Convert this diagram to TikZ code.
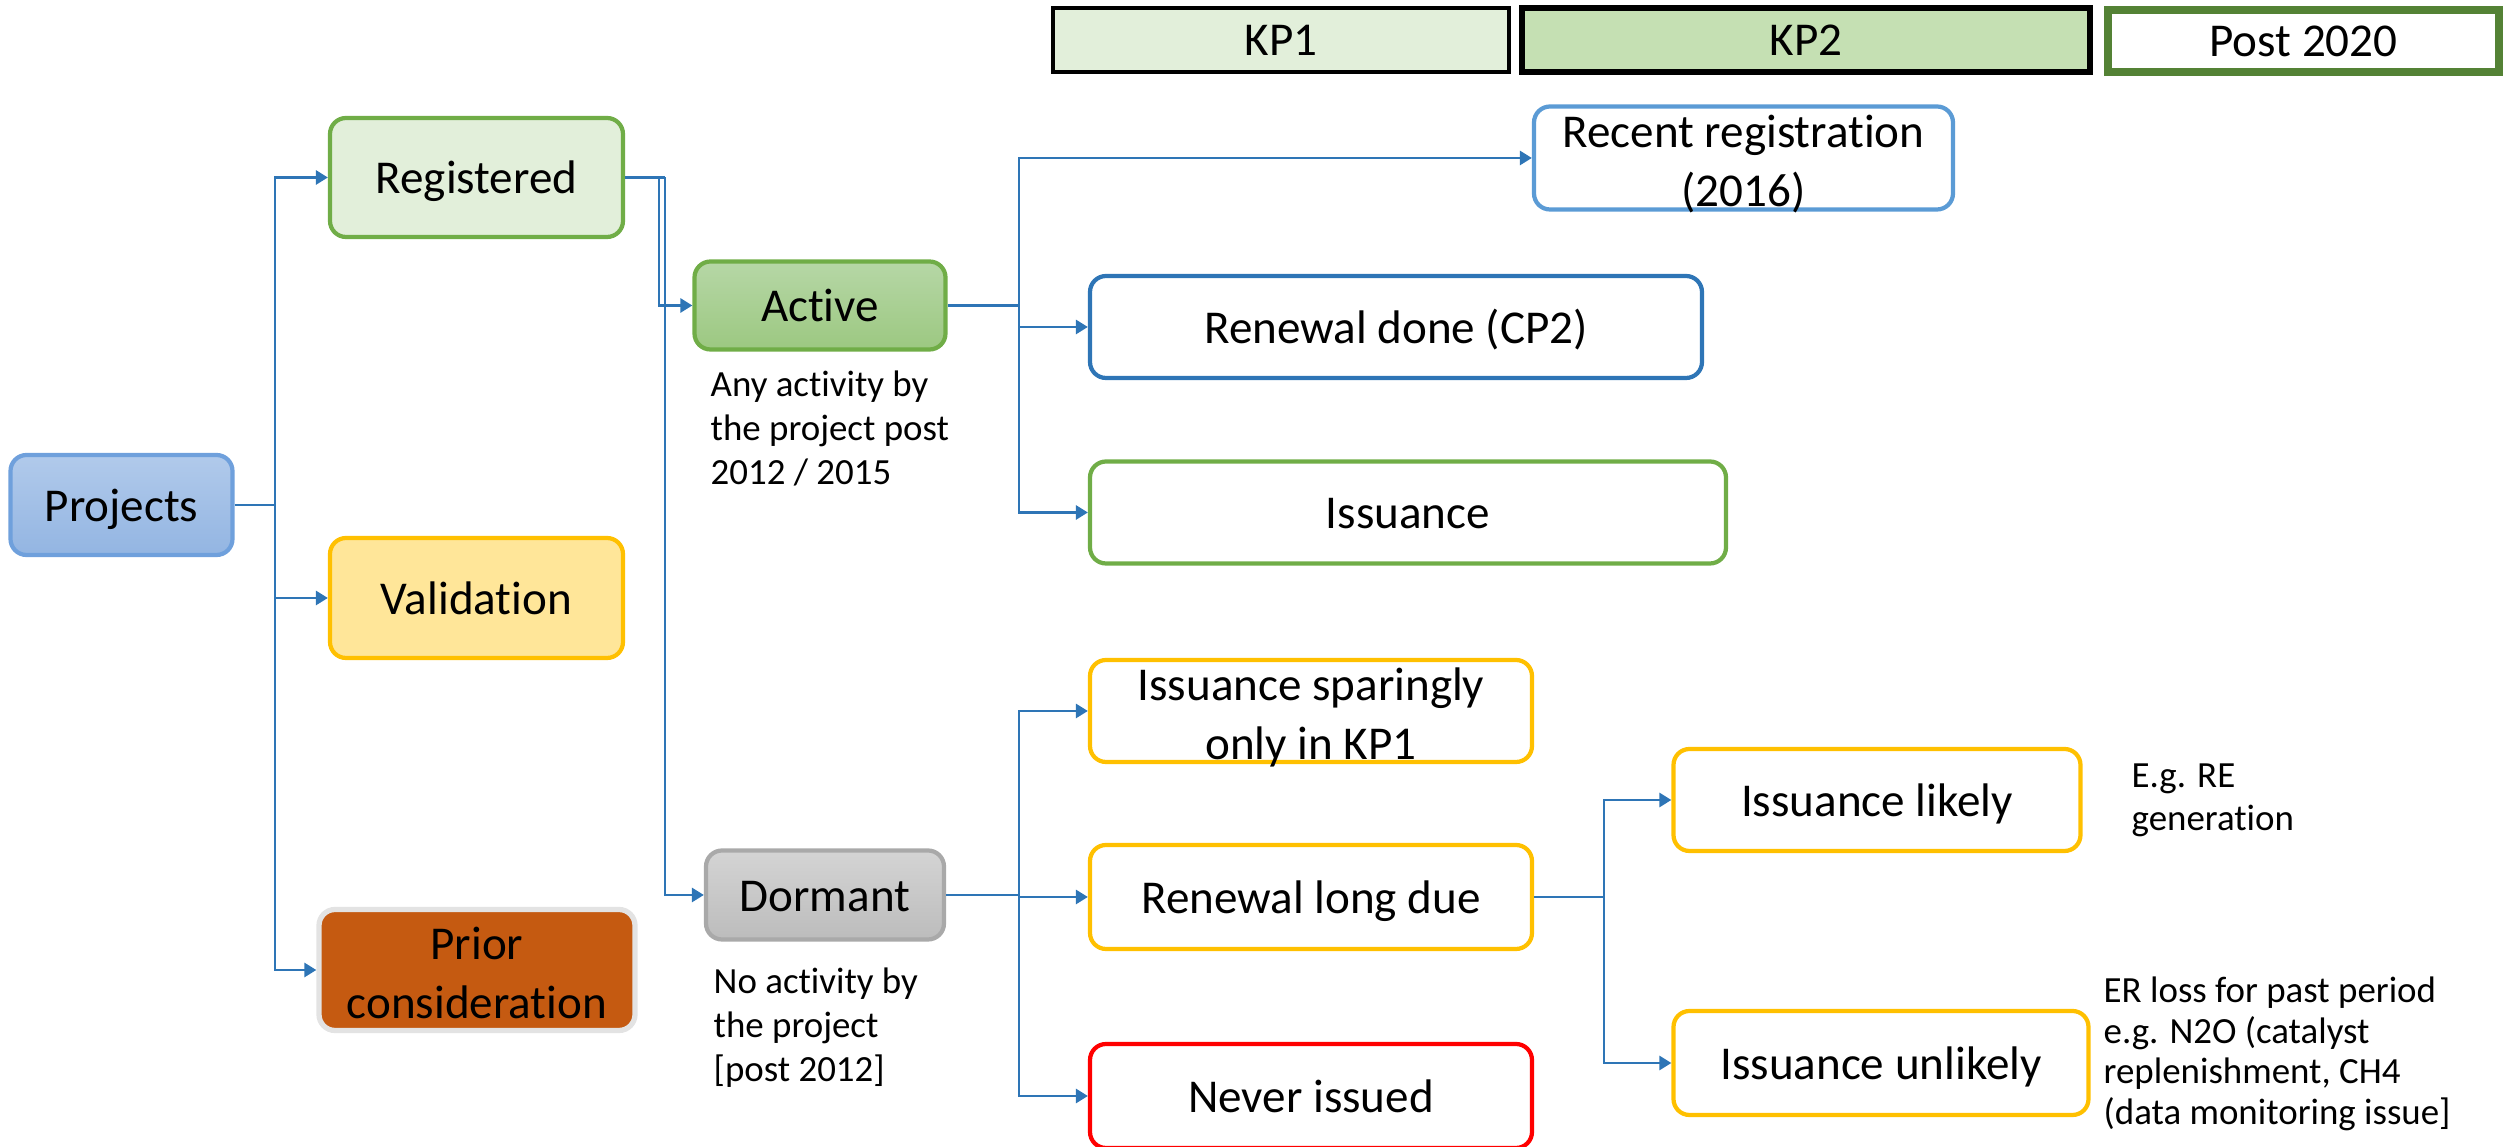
\documentclass[tikz,border=0pt]{standalone}
\usepackage{fontspec}
\setmainfont{Carlito}[Ligatures=NoCommon]
\usetikzlibrary{arrows.meta}
\definecolor{link}{HTML}{2E75B6}
\definecolor{kpone}{HTML}{E2EFDA}
\definecolor{kptwo}{HTML}{C5E0B3}
\definecolor{postgreen}{HTML}{548235}
\definecolor{projline}{HTML}{6FA0DC}
\definecolor{projtop}{HTML}{B1CAEB}
\definecolor{projbot}{HTML}{93B5E2}
\definecolor{leaf}{HTML}{70AD47}
\definecolor{paleleaf}{HTML}{E2EFDA}
\definecolor{amber}{HTML}{FFC000}
\definecolor{paleamber}{HTML}{FFE699}
\definecolor{rust}{HTML}{C55A11}
\definecolor{haze}{HTML}{E3E3E3}
\definecolor{activetop}{HTML}{B6D7A6}
\definecolor{activebot}{HTML}{9CC881}
\definecolor{dormline}{HTML}{A9A9A9}
\definecolor{dormtop}{HTML}{D4D4D4}
\definecolor{dormbot}{HTML}{BCBCBC}
\definecolor{skyline}{HTML}{5B9BD5}
\definecolor{alarm}{HTML}{FF0000}
\newcommand{\boxfont}{\fontsize{13.4}{16.8}\selectfont}
\newcommand{\notefont}{\fontsize{10.5}{12.5}\selectfont}
\newcommand{\tightnote}{\fontsize{10.5}{11.6}\selectfont}
\newcommand{\tnoi}{t\kern0pt i}
\begin{document}
\begin{tikzpicture}[
  box/.style={draw, rounded corners=0.16cm, line width=1.2pt, align=center, font=\boxfont, inner sep=0pt,
    execute at begin node={\rule{0pt}{0.95em}}, execute at end node={\rule[-0.25em]{0pt}{0pt}}},
  twoline/.style={inner ysep=-3.5pt, execute at begin node={\rule{0pt}{31pt}}},
  period/.style={draw, line width=1.3pt, font=\boxfont, inner sep=0pt},
  note/.style={anchor=north west, align=left, inner sep=0pt, font=\notefont},
  flow/.style={draw=link, line width=0.8pt, -{Triangle[length=0.12cm,width=0.14cm]}},
  trunk/.style={draw=link, line width=0.8pt}
]
\useasboundingbox (0,0) rectangle (25.07,-11.47);

\node[period, fill=kpone, minimum width=4.56cm, minimum height=0.64cm] (kp1) at (12.81,-0.40) {KP1};
\node[period, fill=kptwo, line width=1.6pt, minimum width=5.68cm, minimum height=0.64cm] (kp2) at (18.06,-0.40) {KP2};
\node[period, draw=postgreen, line width=2.4pt, fill=white, minimum width=3.91cm, minimum height=0.62cm] (post) at (23.035,-0.41) {Post 2020};

\node[box, draw=projline, top color=projtop, bottom color=projbot, minimum width=2.22cm, minimum height=1.0cm] (projects) at (1.215,-5.05) {Projects};
\node[box, draw=leaf, fill=paleleaf, minimum width=2.93cm, minimum height=1.19cm] (registered) at (4.765,-1.775) {Registered};
\node[box, draw=amber, fill=paleamber, minimum width=2.93cm, minimum height=1.2cm] (validation) at (4.765,-5.98) {Valida\tnoi on};
\node[box, twoline, draw=haze, line width=1.5pt, fill=rust, minimum width=3.16cm, minimum height=1.21cm] (prior) at (4.77,-9.70) {Prior\\considera\tnoi on};
\node[box, draw=leaf, top color=activetop, bottom color=activebot, minimum width=2.51cm, minimum height=0.88cm] (active) at (8.20,-3.055) {Active};
\node[box, draw=dormline, top color=dormtop, bottom color=dormbot, minimum width=2.38cm, minimum height=0.89cm] (dormant) at (8.25,-8.95) {Dormant};

\node[note] (activenote) at (7.10,-3.70) {Any ac\tnoi vity by\\the project post\\2012 / 2015};
\node[note] (dormantnote) at (7.13,-9.67) {No ac\tnoi vity by\\the project\\{[post 2012]}};

\node[box, twoline, draw=skyline, minimum width=4.19cm, minimum height=1.03cm] (recent) at (17.435,-1.58) {Recent registra\tnoi on\\(2016)};
\node[box, draw=link, minimum width=6.12cm, minimum height=1.02cm] (renewed) at (13.96,-3.27) {Renewal done (CP2)};
\node[box, draw=leaf, minimum width=6.36cm, minimum height=1.02cm] (issuance) at (14.08,-5.125) {Issuance};
\node[box, twoline, draw=amber, minimum width=4.42cm, minimum height=1.02cm] (sparing) at (13.11,-7.11) {Issuance sparingly\\only in KP1};
\node[box, draw=amber, minimum width=4.42cm, minimum height=1.04cm] (longdue) at (13.11,-8.97) {Renewal long due};
\node[box, draw=alarm, minimum width=4.42cm, minimum height=1.04cm] (never) at (13.11,-10.96) {Never issued};
\node[box, draw=amber, minimum width=4.07cm, minimum height=1.02cm] (likely) at (18.77,-8.00) {Issuance likely};
\node[box, draw=amber, minimum width=4.15cm, minimum height=1.04cm] (unlikely) at (18.81,-10.63) {Issuance unlikely};

\node[note, font=\fontsize{10.5}{12.3}\selectfont] (renote) at (21.31,-7.63) {E.g. RE\\genera\tnoi on};
\node[note, font=\tightnote] (lossnote) at (21.03,-9.76) {ER loss for past period\\e.g. N2O (catalyst\\replenishment, CH4\\(data monitoring issue{]}};

\coordinate (t1) at (2.75,-5.05);
\coordinate (t2a) at (6.59,-1.775);
\coordinate (t2b) at (6.65,-1.775);
\coordinate (t3) at (10.19,-3.055);
\coordinate (t4) at (10.19,-8.95);
\coordinate (t5) at (16.04,-8.97);

\draw[trunk] (projects.east) -- (t1);
\foreach \n in {registered,validation,prior}
  \draw[flow] (t1) |- (\n.west);
\draw[trunk] (registered.east) -- (t2b);
\draw[flow] (t2a) |- (active.west);
\draw[flow] (t2b) |- (dormant.west);
\draw[trunk] (active.east) -- (t3);
\foreach \n in {recent,renewed,issuance}
  \draw[flow] (t3) |- (\n.west);
\draw[trunk] (dormant.east) -- (t4);
\foreach \n in {sparing,longdue,never}
  \draw[flow] (t4) |- (\n.west);
\draw[trunk] (longdue.east) -- (t5);
\foreach \n in {likely,unlikely}
  \draw[flow] (t5) |- (\n.west);
\end{tikzpicture}
\end{document}
